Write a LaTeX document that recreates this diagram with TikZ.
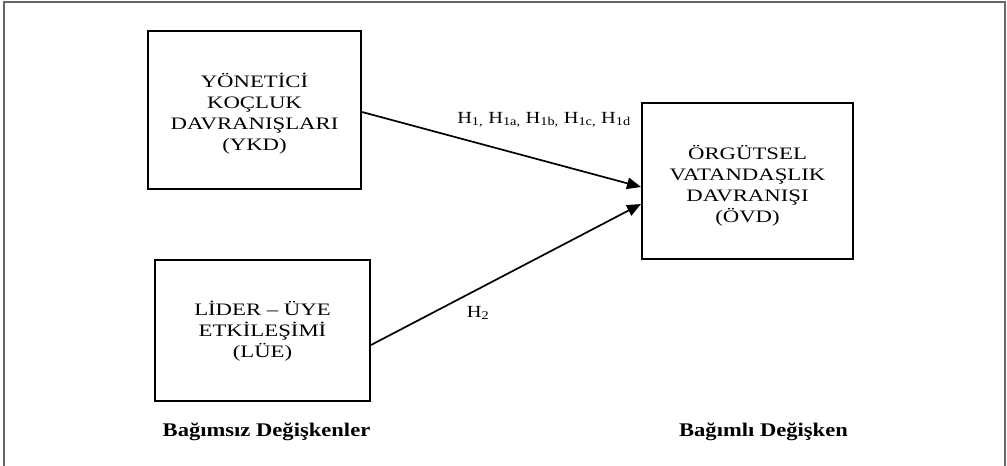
\documentclass[tikz,border=0pt]{standalone}
\usepackage{fontspec}
\setmainfont[FakeStretch=1.17]{Liberation Serif}
\newfontfamily\boxfont[FakeStretch=1.3]{Liberation Serif}
\newfontfamily\hfont[FakeStretch=1.2]{Liberation Serif}
\usetikzlibrary{arrows.meta}
\tikzset{
  boxnode/.style={draw=black, line width=2pt, inner sep=0pt, align=center,
    font=\boxfont\fontsize{17.5}{21}\selectfont, text depth=0pt},
  hlabel/.style={inner sep=0pt, font=\hfont\fontsize{17}{21}\selectfont},
  grouplabel/.style={inner sep=0pt, font=\fontsize{19.3}{23}\selectfont\bfseries},
  link/.style={line width=1.7pt, -{Triangle[length=14pt,width=11.5pt]}},
  frameline/.style={draw=black!60, line width=2pt}
}
\begin{document}
\begin{tikzpicture}[x=1pt,y=-1pt]
\useasboundingbox (0,0) rectangle (1007,466);
\coordinate (f1) at (4,2);
\coordinate (f2) at (1005,2);
\coordinate (f3) at (4,466);
\coordinate (f4) at (1005,466);
\draw[frameline] (f3) -- (f1) -- (f2) -- (f4);

\node[boxnode, minimum width=213pt, minimum height=158pt, text height=80pt] (ykd) at (254.5,110)
  {YÖNETİCİ\\KOÇLUK\\DAVRANIŞLARI\\(YKD)};
\node[boxnode, minimum width=215pt, minimum height=141pt, text height=53pt] (lue) at (262.5,330.5)
  {LİDER – ÜYE\\ETKİLEŞİMİ\\(LÜE)};
\node[boxnode, minimum width=211pt, minimum height=156pt, text height=82pt] (ovd) at (747.5,181)
  {ÖRGÜTSEL\\VATANDAŞLIK\\DAVRANIŞI\\(ÖVD)};

\draw[link] ([yshift=-2pt]ykd.east) -- ([yshift=-6pt]ovd.west);
\draw[link] ([yshift=-14.5pt]lue.east) -- ([yshift=-23pt]ovd.west);

\node[hlabel, anchor=base] (h1) at (544,123)
  {H\textsubscript{1,} H\textsubscript{1a,} H\textsubscript{1b,} H\textsubscript{1c,} H\textsubscript{1d}};
\node[hlabel, anchor=base] (h2) at (478,317) {H\textsubscript{2}};

\node[grouplabel, anchor=base] (bag) at (266.5,436) {Bağımsız Değişkenler};
\node[grouplabel, anchor=base] (dep) at (763.5,436) {Bağımlı Değişken};
\end{tikzpicture}
\end{document}
